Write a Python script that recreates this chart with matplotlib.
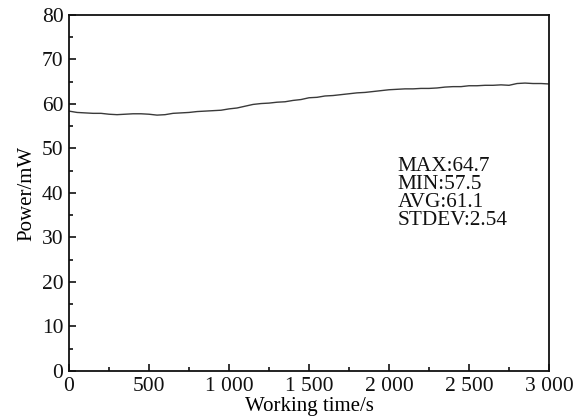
import matplotlib
matplotlib.use("Agg")
import matplotlib.pyplot as plt
from matplotlib.ticker import MultipleLocator, FixedLocator

time_s = [0, 50, 100, 150, 200, 250, 300, 350, 400, 450, 500, 550, 600, 650, 700, 750,
          800, 850, 900, 950, 1000, 1050, 1100, 1150, 1200, 1250, 1300, 1350, 1400, 1450,
          1500, 1550, 1600, 1650, 1700, 1750, 1800, 1850, 1900, 1950, 2000, 2050, 2100,
          2150, 2200, 2250, 2300, 2350, 2400, 2450, 2500, 2550, 2600, 2650, 2700, 2750,
          2800, 2850, 2900, 2950, 3000]
power_mw = [58.4, 58.1, 58.0, 57.9, 57.9, 57.7, 57.6, 57.7, 57.8, 57.8, 57.7, 57.5, 57.6,
            57.9, 58.0, 58.1, 58.3, 58.4, 58.5, 58.6, 58.9, 59.1, 59.5, 59.9, 60.1, 60.2,
            60.4, 60.5, 60.8, 61.0, 61.4, 61.5, 61.8, 61.9, 62.1, 62.3, 62.5, 62.6, 62.8,
            63.0, 63.2, 63.3, 63.4, 63.4, 63.5, 63.5, 63.6, 63.8, 63.9, 63.9, 64.1, 64.1,
            64.2, 64.2, 64.3, 64.2, 64.6, 64.7, 64.6, 64.6, 64.5]

x_ticks = [0, 500, 1000, 1500, 2000, 2500, 3000]
x_tick_labels = ["0", "500", "1 000", "1 500", "2 000", "2 500", "3 000"]
y_ticks = [0, 10, 20, 30, 40, 50, 60, 70, 80]
stats_text = ["MAX:64.7", "MIN:57.5", "AVG:61.1", "STDEV:2.54"]

plt.rcParams['font.family'] = ['Liberation Serif', 'DejaVu Serif']

fig = plt.figure(figsize=(5.83, 4.2), dpi=100)
ax = fig.add_axes([0.1184, 0.1167, 0.9417 - 0.1184, 0.9643 - 0.1167])

ax.plot(time_s, power_mw, color='#3a3a3a', linewidth=1.0)

ax.set_xlim(0, 3000)
ax.set_ylim(0, 80)
ax.xaxis.set_major_locator(FixedLocator(x_ticks))
ax.set_xticklabels(x_tick_labels)
ax.xaxis.set_minor_locator(MultipleLocator(250))
ax.yaxis.set_major_locator(FixedLocator(y_ticks))
ax.yaxis.set_minor_locator(MultipleLocator(5))

ax.tick_params(which='both', direction='in', top=False, right=False, labelsize=15.5,
               width=1.2, colors='#111111')
ax.tick_params(which='major', length=5, pad=4)
ax.tick_params(which='minor', length=3)
for s in ax.spines.values():
    s.set_linewidth(1.3)
    s.set_color('#111111')

ax.set_xlabel("Working time/s", fontsize=15, labelpad=1)
ax.set_ylabel("Power/mW", fontsize=15, labelpad=4)

ax.text(0.685, 0.602, "\n".join(stats_text), transform=ax.transAxes,
        fontsize=15.3, va='top', ha='left', linespacing=0.93, color='#111111')

fig.savefig("out.png", dpi=100)
